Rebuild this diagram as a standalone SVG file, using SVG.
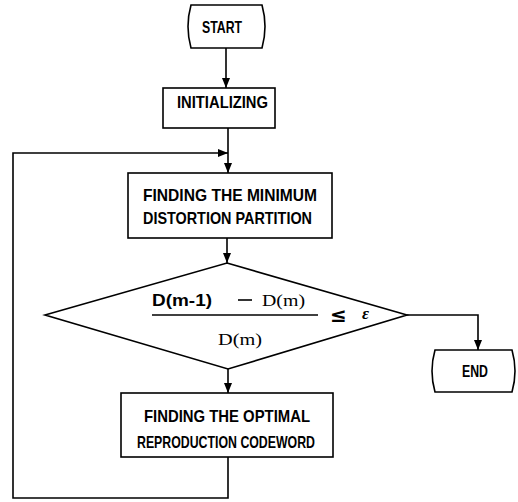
<svg xmlns="http://www.w3.org/2000/svg" width="518" height="502" viewBox="0 0 518 502">
<defs>
<marker id="ah" viewBox="0 0 10 10" refX="10" refY="5" markerWidth="10" markerHeight="10" markerUnits="userSpaceOnUse" orient="auto">
<path d="M0,1 L10,5 L0,9 Z" fill="#000"/>
</marker>
</defs>
<style>
.shape{fill:#fff;stroke:#000;stroke-width:1.6}
.line{fill:none;stroke:#000;stroke-width:1.6}
.t{font-family:"Liberation Sans","DejaVu Sans",sans-serif;font-weight:bold;font-size:16.5px;fill:#000}
.s{font-family:"Liberation Serif","DejaVu Serif",serif;font-size:17px;fill:#000}
.m{font-family:"DejaVu Sans",sans-serif;font-weight:bold;font-size:20px;fill:#000}
</style>
<rect width="518" height="502" fill="#fff"/>
<g id="connectors">
<line class="line" x1="226" y1="48" x2="226" y2="88" marker-end="url(#ah)"/>
<line class="line" x1="228" y1="128" x2="228" y2="173" marker-end="url(#ah)"/>
<polyline class="line" points="228,457 228,498 13,498 13,153 228,153" marker-end="url(#ah)"/>
<line class="line" x1="227" y1="238" x2="227" y2="263" marker-end="url(#ah)"/>
<line class="line" x1="228" y1="369" x2="228" y2="393" marker-end="url(#ah)"/>
<polyline class="line" points="407,315 478,315 478,350" marker-end="url(#ah)"/>
</g>
<g id="start">
<path class="shape" d="M191,5 L262,5 Q268,26.5 262,48 L191,48 Q185,26.5 191,5 Z"/>
<text class="t" x="222" y="33" text-anchor="middle" textLength="40" lengthAdjust="spacingAndGlyphs">START</text>
</g>
<g id="initializing">
<rect class="shape" x="163" y="88" width="112" height="40"/>
<text class="t" x="177" y="108" textLength="91" lengthAdjust="spacingAndGlyphs">INITIALIZING</text>
</g>
<g id="partition">
<rect class="shape" x="128" y="173" width="204" height="65"/>
<text class="t" x="143" y="201" textLength="174" lengthAdjust="spacingAndGlyphs">FINDING THE MINIMUM</text>
<text class="t" x="143" y="224" textLength="169" lengthAdjust="spacingAndGlyphs">DISTORTION PARTITION</text>
</g>
<g id="decision">
<polygon class="shape" points="227,263 407,315 228,369 45,315"/>
<text class="t" x="152" y="306" textLength="60" lengthAdjust="spacingAndGlyphs">D(m-1)</text>
<line class="line" x1="238" y1="300" x2="252" y2="300"/>
<text class="s" x="262" y="306" textLength="43" lengthAdjust="spacingAndGlyphs">D(m)</text>
<line class="line" x1="152" y1="315" x2="318" y2="315"/>
<text class="m" x="330" y="322">≤</text>
<text class="s" x="362" y="319" font-style="italic" font-weight="bold">ε</text>
<text class="s" x="218" y="345" textLength="44" lengthAdjust="spacingAndGlyphs">D(m)</text>
</g>
<g id="codeword">
<rect class="shape" x="121" y="393" width="212" height="64"/>
<text class="t" x="144" y="422" textLength="166" lengthAdjust="spacingAndGlyphs">FINDING THE OPTIMAL</text>
<text class="t" x="137" y="448" textLength="178" lengthAdjust="spacingAndGlyphs">REPRODUCTION CODEWORD</text>
</g>
<g id="end">
<path class="shape" d="M435,350 L512,350 Q518,371 512,392 L435,392 Q429,371 435,350 Z"/>
<text class="t" x="475" y="377" text-anchor="middle" textLength="26" lengthAdjust="spacingAndGlyphs">END</text>
</g>
</svg>
